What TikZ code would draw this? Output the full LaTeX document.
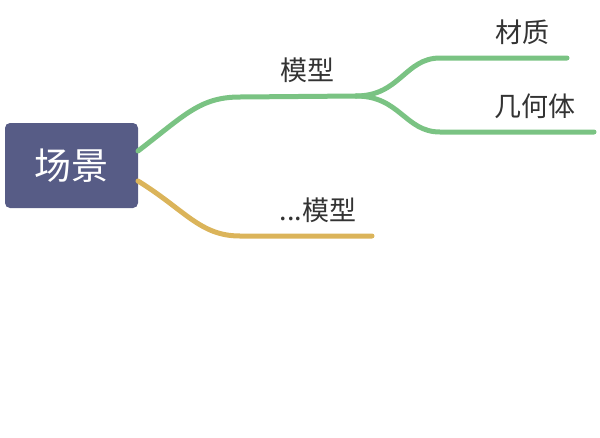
\documentclass[tikz,border=0pt]{standalone}
\usepackage{fontspec}
\newfontfamily\cjk{Noto Sans CJK SC}
\usepackage{xcolor}
\definecolor{cRoot}{HTML}{575C86}
\definecolor{cGreen}{HTML}{7AC383}
\definecolor{cYellow}{HTML}{DBB45A}
\definecolor{cText}{HTML}{333333}
\usetikzlibrary{positioning,calc}
\tikzset{
  node-root/.style={fill=cRoot,rounded corners=5pt,minimum width=133pt,
    minimum height=85pt,text=white,font=\cjk\fontsize{37}{40}\selectfont},
  node-label/.style={text=cText,font=\cjk\fontsize{27}{30}\selectfont,inner sep=0pt},
  branch-green/.style={draw=cGreen,line width=5pt,line cap=round},
  branch-yellow/.style={draw=cYellow,line width=5pt,line cap=round},
}
\begin{document}
\begin{tikzpicture}[x=1pt,y=-1pt]
  \useasboundingbox (0,0) rectangle (600,437);
  \node[node-root] (root) at (71.5,165.5) {场景};
  % branch ends
  \coordinate (g0) at (138,151);
  \coordinate (g1) at (240,97);
  \coordinate (g2) at (356,96);
  \coordinate (m1) at (440,58);
  \coordinate (m2) at (567,58);
  \coordinate (h1) at (440,132);
  \coordinate (h2) at (594,132);
  \coordinate (y0) at (138,181);
  \coordinate (y1) at (240,236);
  \coordinate (y2) at (372,236);
  \draw[branch-green] (g0) .. controls (185,115) and (200,97) .. (g1) -- (g2);
  \draw[branch-green] (g2) .. controls (400,96) and (405,58) .. (m1) -- (m2);
  \draw[branch-green] (g2) .. controls (400,96) and (405,132) .. (h1) -- (h2);
  \draw[branch-yellow] (y0) .. controls (185,210) and (200,236) .. (y1) -- (y2);
  \node[node-label] (model) at (307,70) {模型};
  \node[node-label] (material) at (522,32) {材质};
  \node[node-label] (geometry) at (535,106) {几何体};
  \node[node-label] (more) at (318,210) {...模型};
\end{tikzpicture}
\end{document}
